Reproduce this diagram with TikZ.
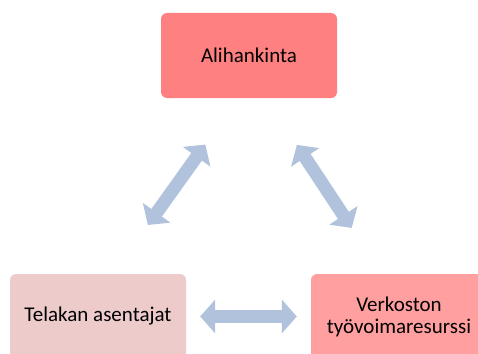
\documentclass[tikz,border=0pt]{standalone}
\usepackage{fontspec}
\setmainfont{Carlito}
\usetikzlibrary{arrows.meta, positioning}

\definecolor{topred}{HTML}{FF8080}
\definecolor{leftpink}{HTML}{EDCBCB}
\definecolor{rightred}{HTML}{FF9F9F}
\definecolor{arrowblue}{HTML}{B1C2DD}

\begin{document}
\begin{tikzpicture}[
        x=1pt, y=-1pt,
        box/.style={rectangle, rounded corners=6pt, minimum width=176pt, minimum height=85pt, align=center, inner sep=0pt, font=\fontsize{21}{22}\selectfont},
        link/.style={draw=arrowblue, line width=13pt, {Triangle[width=33pt, length=15pt]}-{Triangle[width=33pt, length=15pt]}}
    ]
    \useasboundingbox (0,0) rectangle (478,353);

    % Nodes
    \node[box, fill=topred] (sub) at (249,55.5) {Alihankinta};
    \node[box, fill=leftpink] (fitters) at (98,316.5) {Telakan asentajat};
    \node[box, fill=rightred] (network) at (399,316.5) {Verkoston\\työvoimaresurssi};

    % Arrows
    \draw[link, shorten <=57pt, shorten >=60pt] ([xshift=-10.5pt]sub.south) -- ([xshift=15pt]fitters.north);
    \draw[link, shorten <=56pt, shorten >=55pt] ([xshift=17pt]sub.south) -- ([xshift=-17pt]network.north);
    \draw[link, shorten <=14pt, shorten >=14pt] (fitters) -- (network);

\end{tikzpicture}
\end{document}
